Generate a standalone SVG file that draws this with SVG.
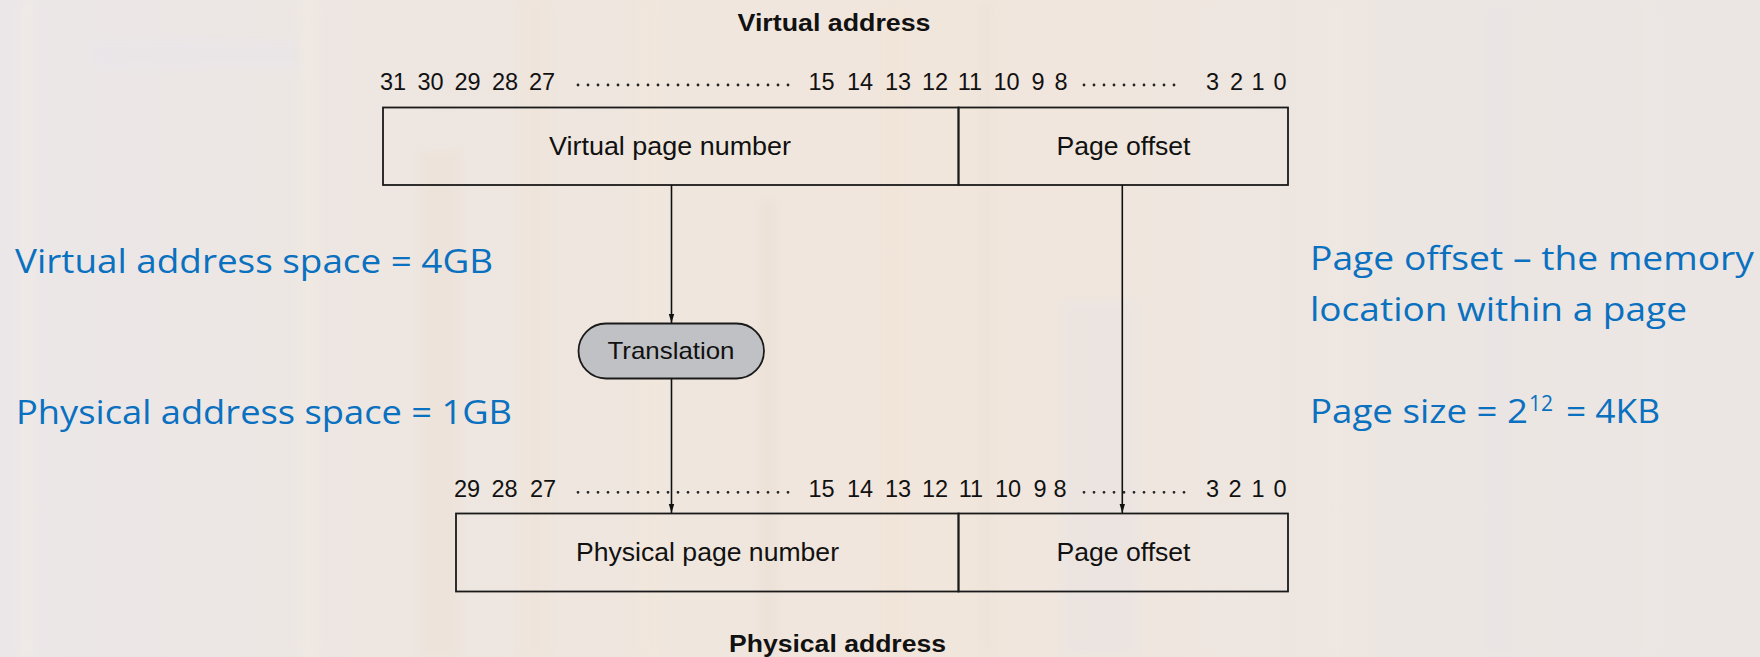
<svg xmlns="http://www.w3.org/2000/svg" width="1760" height="657" viewBox="0 0 1760 657">
<defs>
<linearGradient id="bg" x1="0" y1="0" x2="1" y2="0">
<stop offset="0" stop-color="#ebe7e8"/>
<stop offset="0.3" stop-color="#eee6df"/>
<stop offset="0.55" stop-color="#f1e6dc"/>
<stop offset="0.8" stop-color="#ece6e2"/>
<stop offset="1" stop-color="#ebe6e4"/>
</linearGradient>
<filter id="blur" x="-10%" y="-10%" width="120%" height="120%"><feGaussianBlur stdDeviation="4"/></filter>
<marker id="arrD" markerWidth="10" markerHeight="16" refX="15" refY="5" orient="auto" markerUnits="userSpaceOnUse" viewBox="0 0 16 10">
<path d="M0,0.5 L15,5 L0,9.5 Z" fill="#111"/>
</marker>
</defs>
<style>
.lbl{font-family:"Liberation Sans",Arial,sans-serif;fill:#111;}
.bit{font-family:"Liberation Sans",Arial,sans-serif;font-size:23.5px;fill:#111;text-anchor:middle;}
.ttl{font-family:"Liberation Sans",Arial,sans-serif;font-weight:bold;font-size:23.5px;fill:#111;text-anchor:middle;}
.box{fill:none;stroke:#1a1a1a;stroke-width:1.8;}
.dots{stroke:#222;stroke-width:2.8;stroke-linecap:round;stroke-dasharray:0 10;fill:none;}
.note{font-family:"Open Sans","Noto Sans",sans-serif;font-size:33px;fill:#0a70c0;}
.conn{stroke:#111;stroke-width:1.6;fill:none;}
</style>
<rect width="1760" height="657" fill="url(#bg)"/>
<g id="background" filter="url(#blur)" opacity="0.4">
<rect x="20" y="0" width="14" height="657" fill="#f6efe6"/>
<rect x="90" y="40" width="220" height="30" fill="#e8e5ec"/>
<rect x="300" y="0" width="18" height="657" fill="#f4ece2"/>
<rect x="420" y="150" width="40" height="507" fill="#ecdfd2"/>
<rect x="520" y="0" width="30" height="657" fill="#efe3d6"/>
<rect x="640" y="0" width="22" height="657" fill="#f5e8da"/>
<rect x="760" y="200" width="16" height="457" fill="#e9dccf"/>
<rect x="880" y="0" width="26" height="657" fill="#f3e4d6"/>
<rect x="980" y="0" width="14" height="657" fill="#ece0d6"/>
<rect x="1060" y="300" width="80" height="357" fill="#e6e2e4"/>
<rect x="1200" y="0" width="20" height="657" fill="#eee6e0"/>
<rect x="1330" y="0" width="12" height="657" fill="#f2ebe4"/>
<rect x="1480" y="0" width="40" height="657" fill="#e8e4e6"/>
<rect x="1640" y="0" width="18" height="657" fill="#efe8e2"/>
</g>

<g id="virtual-address">
<text class="ttl" x="834" y="30.7" textLength="193" lengthAdjust="spacingAndGlyphs">Virtual address</text>
<g id="virtual-bits">
<text class="bit" x="393" y="90">31</text>
<text class="bit" x="430.5" y="90">30</text>
<text class="bit" x="467.5" y="90">29</text>
<text class="bit" x="505" y="90">28</text>
<text class="bit" x="542" y="90">27</text>
<line class="dots" x1="578" y1="85" x2="790" y2="85"/>
<text class="bit" x="821.5" y="90">15</text>
<text class="bit" x="860" y="90">14</text>
<text class="bit" x="898" y="90">13</text>
<text class="bit" x="935" y="90">12</text>
<text class="bit" x="970" y="90">11</text>
<text class="bit" x="1006.5" y="90">10</text>
<text class="bit" x="1038" y="90">9</text>
<text class="bit" x="1061" y="90">8</text>
<line class="dots" x1="1084" y1="85" x2="1184" y2="85"/>
<text class="bit" x="1212.5" y="90">3</text>
<text class="bit" x="1236.5" y="90">2</text>
<text class="bit" x="1258" y="90">1</text>
<text class="bit" x="1280" y="90">0</text>
</g>
<g id="vpn">
<rect class="box" x="383" y="107.5" width="575.5" height="77.5"/>
<text class="lbl" x="670" y="155" font-size="25.5" text-anchor="middle" textLength="242" lengthAdjust="spacingAndGlyphs">Virtual page number</text>
</g>
<g id="vpo">
<rect class="box" x="958.5" y="107.5" width="329.5" height="77.5"/>
<text class="lbl" x="1123.5" y="155" font-size="25.5" text-anchor="middle" textLength="134" lengthAdjust="spacingAndGlyphs">Page offset</text>
</g>
</g>

<g id="translation">
<rect x="578.5" y="323.5" width="185.5" height="55" rx="27.5" ry="27.5" fill="#c0c1c4" stroke="#1a1a1a" stroke-width="1.8"/>
<text class="lbl" x="671" y="359" font-size="24" text-anchor="middle" textLength="127" lengthAdjust="spacingAndGlyphs">Translation</text>
</g>

<g id="physical-address">
<g id="physical-bits">
<text class="bit" x="467" y="497.3">29</text>
<text class="bit" x="504.5" y="497.3">28</text>
<text class="bit" x="543" y="497.3">27</text>
<line class="dots" x1="578" y1="492.3" x2="790" y2="492.3"/>
<text class="bit" x="821.5" y="497.3">15</text>
<text class="bit" x="860" y="497.3">14</text>
<text class="bit" x="898" y="497.3">13</text>
<text class="bit" x="935" y="497.3">12</text>
<text class="bit" x="971" y="497.3">11</text>
<text class="bit" x="1008" y="497.3">10</text>
<text class="bit" x="1040" y="497.3">9</text>
<text class="bit" x="1060" y="497.3">8</text>
<line class="dots" x1="1084" y1="492.3" x2="1186" y2="492.3"/>
<text class="bit" x="1212.5" y="497.3">3</text>
<text class="bit" x="1235" y="497.3">2</text>
<text class="bit" x="1258" y="497.3">1</text>
<text class="bit" x="1280" y="497.3">0</text>
</g>
<g id="ppn">
<rect class="box" x="456" y="513.5" width="502.5" height="78"/>
<text class="lbl" x="707.5" y="560.7" font-size="25.5" text-anchor="middle" textLength="263" lengthAdjust="spacingAndGlyphs">Physical page number</text>
</g>
<g id="ppo">
<rect class="box" x="958.5" y="513.5" width="329.5" height="78"/>
<text class="lbl" x="1123.5" y="560.7" font-size="25.5" text-anchor="middle" textLength="134" lengthAdjust="spacingAndGlyphs">Page offset</text>
</g>
<text class="ttl" x="837.5" y="651.7" textLength="217" lengthAdjust="spacingAndGlyphs">Physical address</text>
</g>

<g id="connectors">
<line class="conn" x1="671.5" y1="185" x2="671.5" y2="323" marker-end="url(#arrD)"/>
<line class="conn" x1="671.5" y1="378.5" x2="671.5" y2="513" marker-end="url(#arrD)"/>
<line class="conn" x1="1122.3" y1="185" x2="1122.3" y2="513" marker-end="url(#arrD)"/>
</g>

<g id="notes">
<text class="note" x="15" y="273.3" textLength="478" lengthAdjust="spacingAndGlyphs">Virtual address space = 4GB</text>
<text class="note" x="16" y="423.5" textLength="496" lengthAdjust="spacingAndGlyphs">Physical address space = 1GB</text>
<text class="note" x="1310" y="270" textLength="444" lengthAdjust="spacingAndGlyphs">Page offset – the memory</text>
<text class="note" x="1310" y="320.7" textLength="377" lengthAdjust="spacingAndGlyphs">location within a page</text>
<text class="note"><tspan x="1310" y="423.3" textLength="218" lengthAdjust="spacingAndGlyphs">Page size = 2</tspan><tspan x="1529" y="410.7" font-size="21">12</tspan><tspan x="1566" y="423.3" textLength="94" lengthAdjust="spacingAndGlyphs">= 4KB</tspan></text>
</g>
</svg>
